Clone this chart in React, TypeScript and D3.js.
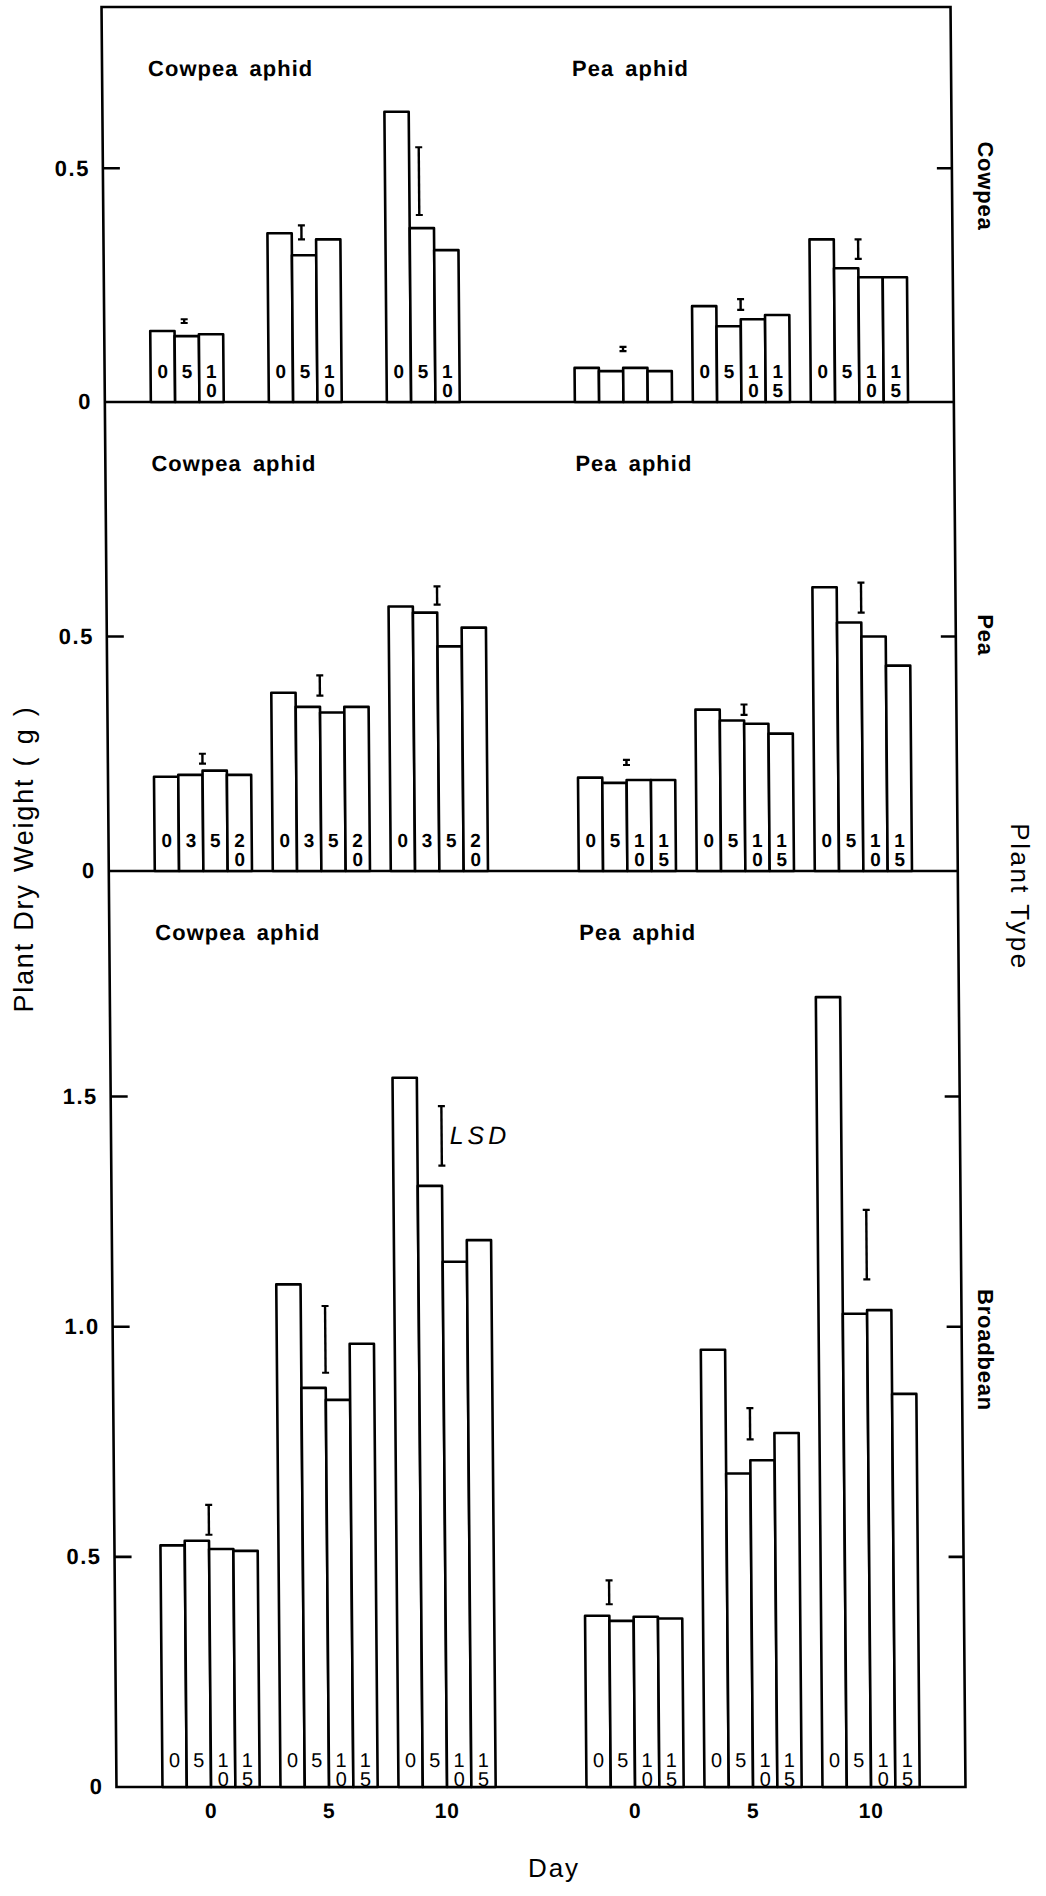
import React from 'react';
import * as d3 from 'd3';

// panels top to bottom, facets left to right
const plantTypes = ['Cowpea', 'Pea', 'Broadbean'];
const aphidSpecies = ['Cowpea aphid', 'Pea aphid'];
const days = [0, 5, 10];
const yMaxByPlant = [0.845, 1.0, 1.99];
const yTicksByPlant = [[0, 0.5], [0, 0.5], [0, 0.5, 1.0, 1.5]];

// aphid densities printed inside the bars
const densities3 = ['0', '5', '10'];
const densities4 = ['0', '5', '10', '15'];
const densitiesPeaPlant = ['0', '3', '5', '20'];

// plant dry weight (g), one row per day, one value per density
const cowpeaCowpeaAphid = [
  [0.152, 0.141, 0.145],
  [0.361, 0.314, 0.348],
  [0.621, 0.372, 0.325]
];
const cowpeaPeaAphid = [
  [0.073, 0.066, 0.073, 0.066],
  [0.205, 0.162, 0.177, 0.186],
  [0.348, 0.286, 0.267, 0.267]
];
const peaCowpeaAphid = [
  [0.201, 0.205, 0.214, 0.205],
  [0.38, 0.35, 0.338, 0.35],
  [0.564, 0.551, 0.479, 0.519]
];
const peaPeaAphid = [
  [0.199, 0.188, 0.194, 0.194],
  [0.344, 0.321, 0.314, 0.293],
  [0.605, 0.53, 0.5, 0.438]
];
const broadbeanCowpeaAphid = [
  [0.525, 0.535, 0.517, 0.513],
  [1.092, 0.867, 0.841, 0.963],
  [1.541, 1.306, 1.141, 1.188]
];
const broadbeanPeaAphid = [
  [0.372, 0.361, 0.37, 0.366],
  [0.95, 0.681, 0.71, 0.769],
  [1.716, 1.028, 1.036, 0.854]
];

// LSD bars [low, high] per day
const cowpeaCowpeaAphidLsd = [[0.169, 0.177], [0.348, 0.378], [0.4, 0.545]];
const cowpeaPeaAphidLsd = [[0.109, 0.118], [0.197, 0.22], [0.306, 0.348]];
const peaCowpeaAphidLsd = [[0.229, 0.25], [0.374, 0.417], [0.568, 0.607]];
const peaPeaAphidLsd = [[0.226, 0.237], [0.333, 0.355], [0.551, 0.615]];
const broadbeanCowpeaAphidLsd = [[0.548, 0.613], [0.9, 1.045], [1.35, 1.479]];
const broadbeanPeaAphidLsd = [[0.397, 0.449], [0.755, 0.823], [1.103, 1.254]];

// which bar (counted in bar widths from the group start) each LSD stands over
const lsdAt3 = [1.4, 1.4, 1.4];
const lsdAt4 = [2, 2, 2];
const lsdAtBroadbeanPea = [1, 2, 2];

const facets = [
  { plant: 0, aphid: 0, values: cowpeaCowpeaAphid, lsd: cowpeaCowpeaAphidLsd, lsdAt: lsdAt3, labels: [densities3, densities3, densities3] },
  { plant: 0, aphid: 1, values: cowpeaPeaAphid, lsd: cowpeaPeaAphidLsd, lsdAt: lsdAt4, labels: [null, densities4, densities4] },
  { plant: 1, aphid: 0, values: peaCowpeaAphid, lsd: peaCowpeaAphidLsd, lsdAt: lsdAt4, labels: [densitiesPeaPlant, densitiesPeaPlant, densitiesPeaPlant] },
  { plant: 1, aphid: 1, values: peaPeaAphid, lsd: peaPeaAphidLsd, lsdAt: lsdAt4, labels: [densities4, densities4, densities4] },
  { plant: 2, aphid: 0, values: broadbeanCowpeaAphid, lsd: broadbeanCowpeaAphidLsd, lsdAt: lsdAt4, labels: [densities4, densities4, densities4] },
  { plant: 2, aphid: 1, values: broadbeanPeaAphid, lsd: broadbeanPeaAphidLsd, lsdAt: lsdAtBroadbeanPea, labels: [densities4, densities4, densities4] }
];

export default function App() {
  const W = 1046;
  const H = 1896;
  const left = 109;
  const right = 958;
  const panelTop = [7, 402, 871];
  const panelZero = [402, 871, 1787];
  const facetX = [155, 579];
  const barW = 24.3;
  // the scanned figure leans a little: verticals drift right going down
  const shear = 0.0084;
  const shearY = 897;
  const font = "'Liberation Sans', Arial, Helvetica, sans-serif";

  const xDay = d3.scaleLinear().domain([0, 10]).range([0, 236]);
  const yScales = plantTypes.map((_, p) =>
    d3.scaleLinear().domain([0, yMaxByPlant[p]]).range([panelZero[p], panelTop[p]])
  );
  const digitRows = [[30, 11], [30, 11], [27, 8]];
  const rightLabelY = [186, 635, 1350];
  const tickFmt = (v: number) => (v === 0 ? '0' : d3.format('.1f')(v));
  const stroke = 2.6;

  return (
    <svg width={W} height={H} style={{ position: 'absolute', left: 0, top: 0, background: '#fff' }}>
      <g transform={`translate(${-shear * shearY},0) skewX(${(Math.atan(shear) * 180) / Math.PI})`}>
        {/* frame and panel separators */}
        <rect x={left} y={panelTop[0]} width={right - left} height={panelZero[2] - panelTop[0]}
          fill="none" stroke="#000" strokeWidth={stroke} />
        {[panelZero[0], panelZero[1]].map((y, i) => (
          <line key={i} x1={left} x2={right} y1={y} y2={y} stroke="#000" strokeWidth={stroke} />
        ))}

        {/* y ticks, both sides */}
        {plantTypes.map((pt, p) => (
          <g key={pt}>
            {yTicksByPlant[p].map(v => (
              <g key={v}>
                {v > 0 && (
                  <>
                    <line x1={left} x2={left + 17} y1={yScales[p](v)} y2={yScales[p](v)} stroke="#000" strokeWidth={stroke} />
                    <line x1={right - 15} x2={right} y1={yScales[p](v)} y2={yScales[p](v)} stroke="#000" strokeWidth={stroke} />
                  </>
                )}
                <text x={left - 13} y={yScales[p](v)} textAnchor="end" dominantBaseline="central"
                  fontFamily={font} fontWeight="bold" fontSize={22} letterSpacing={1.5}>
                  {tickFmt(v)}
                </text>
              </g>
            ))}
            {aphidSpecies.map((a, ai) => (
              <text key={a} x={facetX[ai]} y={panelTop[p] + 69} fontFamily={font} fontWeight="bold"
                fontSize={22} letterSpacing={1} wordSpacing={4}>
                {a}
              </text>
            ))}
          </g>
        ))}

        {/* bars, density labels and LSD bars */}
        {facets.map(f => {
          const y = yScales[f.plant];
          const zero = panelZero[f.plant];
          const rows = digitRows[f.plant];
          const boldDigits = f.plant < 2;
          return (
            <g key={`${f.plant}-${f.aphid}`}>
              {days.map((day, di) => {
                const gx = facetX[f.aphid] + xDay(day);
                const [lo, hi] = f.lsd[di];
                const lx = gx + f.lsdAt[di] * barW;
                const labels = f.labels[di];
                return (
                  <g key={day}>
                    {f.values[di].map((v, i) => (
                      <rect key={i} x={gx + i * barW} y={y(v)} width={barW} height={zero - y(v)}
                        fill="#fff" stroke="#000" strokeWidth={stroke} strokeLinejoin="round" />
                    ))}
                    {labels && labels.map((s, i) =>
                      s.split('').map((ch, r) => (
                        <text key={`${i}-${r}`} x={gx + (i + 0.5) * barW} y={zero - rows[r]}
                          textAnchor="middle" dominantBaseline="central" fontFamily={font}
                          fontWeight={boldDigits ? 'bold' : 'normal'} fontSize={boldDigits ? 19 : 20}>
                          {ch}
                        </text>
                      ))
                    )}
                    <line x1={lx} x2={lx} y1={y(lo)} y2={y(hi)} stroke="#000" strokeWidth={2.4} />
                    <line x1={lx - 3.5} x2={lx + 3.5} y1={y(lo)} y2={y(lo)} stroke="#000" strokeWidth={2.2} />
                    <line x1={lx - 3.5} x2={lx + 3.5} y1={y(hi)} y2={y(hi)} stroke="#000" strokeWidth={2.2} />
                    {f.plant === 2 && f.aphid === 0 && di === 2 && (
                      <text x={lx + 8} y={(y(lo) + y(hi)) / 2 + 8} fontFamily={font} fontStyle="italic"
                        fontSize={25} letterSpacing={4}>
                        LSD
                      </text>
                    )}
                  </g>
                );
              })}
            </g>
          );
        })}

        {/* day ticks */}
        {aphidSpecies.map((a, ai) =>
          days.map(day => (
            <text key={`${a}-${day}`} x={facetX[ai] + xDay(day) + 2 * barW} y={1818} textAnchor="middle"
              fontFamily={font} fontWeight="bold" fontSize={21} letterSpacing={1}>
              {day}
            </text>
          ))
        )}
      </g>

      {/* plant type names at right */}
      {plantTypes.map((pt, p) => (
        <text key={pt} transform={`translate(985,${rightLabelY[p]}) rotate(90)`} textAnchor="middle"
          dominantBaseline="central" fontFamily={font} fontWeight="bold" fontSize={22} letterSpacing={0.8}>
          {pt}
        </text>
      ))}

      {/* axis titles */}
      <text transform="translate(1020,897) rotate(90)" textAnchor="middle" dominantBaseline="central"
        fontFamily={font} fontSize={26} letterSpacing={2.5}>
        Plant Type
      </text>
      <text transform="translate(24,859) rotate(-90)" textAnchor="middle" dominantBaseline="central"
        fontFamily={font} fontSize={27} letterSpacing={1.8} wordSpacing={2}>
        Plant Dry Weight ( g )
      </text>
      <text x={554} y={1877} textAnchor="middle" fontFamily={font} fontSize={26} letterSpacing={2}>
        Day
      </text>
    </svg>
  );
}
